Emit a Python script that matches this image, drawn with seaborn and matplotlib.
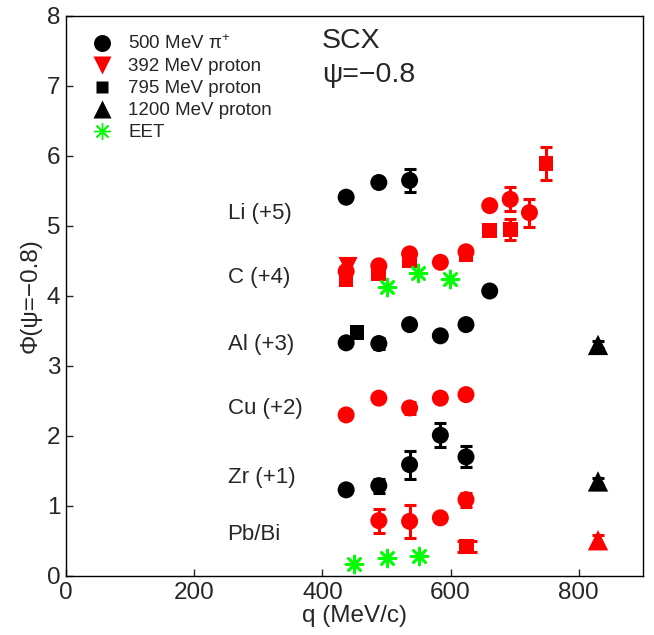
import matplotlib
matplotlib.use("Agg")
import matplotlib.pyplot as plt
from matplotlib.lines import Line2D
import numpy as np
import pandas as pd
import seaborn as sns

# ---- measured SCX points, grouped by nucleus and probe ----
# Li (+5), 500 MeV pi+
li_pi_q = [437, 488, 536, 661]
li_pi_phi = [5.41, 5.62, 5.65, 4.07]
li_pi_err = [0, 0, 0.16, 0]

# C (+4)
c_pi_q = [437, 488, 536, 584, 624, 661, 693, 723]
c_pi_phi = [4.35, 4.43, 4.60, 4.48, 4.63, 5.29, 5.38, 5.19]
c_pi_err = [0, 0, 0, 0, 0, 0, 0.17, 0.20]
c_p392_q = [440]
c_p392_phi = [4.42]
c_p795_q = [437, 488, 536, 624, 661, 693, 749]
c_p795_phi = [4.23, 4.32, 4.50, 4.59, 4.93, 4.95, 5.89]
c_p795_err = [0, 0, 0, 0, 0, 0.15, 0.23]
c_eet_q = [500, 549, 599]
c_eet_phi = [4.13, 4.33, 4.24]

# Al (+3)
al_pi_q = [437, 488, 536, 584, 624]
al_pi_phi = [3.33, 3.32, 3.59, 3.43, 3.59]
al_pi_err = [0, 0.08, 0, 0, 0]
al_p795_q = [454]
al_p795_phi = [3.48]
al_p1200_q = [830]
al_p1200_phi = [3.30]
al_p1200_err = [0.05]

# Cu (+2)
cu_pi_q = [437, 488, 536, 584, 624]
cu_pi_phi = [2.30, 2.54, 2.40, 2.54, 2.59]
cu_pi_err = [0, 0, 0.09, 0, 0]

# Zr (+1)
zr_pi_q = [437, 488, 536, 584, 624]
zr_pi_phi = [1.23, 1.29, 1.59, 2.01, 1.70]
zr_pi_err = [0, 0.10, 0.20, 0.17, 0.15]
zr_p1200_q = [830]
zr_p1200_phi = [1.35]
zr_p1200_err = [0.05]

# Pb/Bi
pb_pi_q = [488, 536, 584, 624]
pb_pi_phi = [0.79, 0.78, 0.83, 1.09]
pb_pi_err = [0.17, 0.24, 0, 0.10]
pb_p795_q = [625]
pb_p795_phi = [0.42]
pb_p795_err = [0.08]
pb_p1200_q = [830]
pb_p1200_phi = [0.51]
pb_p1200_err = [0.07]
pb_eet_q = [449, 500, 550]
pb_eet_phi = [0.17, 0.26, 0.29]

nuclei = ["Li (+5)", "C (+4)", "Al (+3)", "Cu (+2)", "Zr (+1)", "Pb/Bi"]
probes = ["500 MeV \u03c0$^{+}$", "392 MeV proton", "795 MeV proton",
          "1200 MeV proton", "EET"]


def block(nucleus, probe, q, phi, err=None):
    if err is None:
        err = [0] * len(q)
    return pd.DataFrame({"q": q, "phi": phi, "err": err,
                         "nucleus": nucleus, "probe": probe})


df = pd.concat([
    block("Li (+5)", "pi500", li_pi_q, li_pi_phi, li_pi_err),
    block("C (+4)", "pi500", c_pi_q, c_pi_phi, c_pi_err),
    block("C (+4)", "p392", c_p392_q, c_p392_phi),
    block("C (+4)", "p795", c_p795_q, c_p795_phi, c_p795_err),
    block("C (+4)", "eet", c_eet_q, c_eet_phi),
    block("Al (+3)", "pi500", al_pi_q, al_pi_phi, al_pi_err),
    block("Al (+3)", "p795", al_p795_q, al_p795_phi),
    block("Al (+3)", "p1200", al_p1200_q, al_p1200_phi, al_p1200_err),
    block("Cu (+2)", "pi500", cu_pi_q, cu_pi_phi, cu_pi_err),
    block("Zr (+1)", "pi500", zr_pi_q, zr_pi_phi, zr_pi_err),
    block("Zr (+1)", "p1200", zr_p1200_q, zr_p1200_phi, zr_p1200_err),
    block("Pb/Bi", "pi500", pb_pi_q, pb_pi_phi, pb_pi_err),
    block("Pb/Bi", "p795", pb_p795_q, pb_p795_phi, pb_p795_err),
    block("Pb/Bi", "p1200", pb_p1200_q, pb_p1200_phi, pb_p1200_err),
    block("Pb/Bi", "eet", pb_eet_q, pb_eet_phi),
], ignore_index=True)

# ---- styling ----
sns.set_theme(style="ticks", rc={
    "xtick.direction": "in", "ytick.direction": "in",
    "xtick.major.size": 5, "ytick.major.size": 5,
    "xtick.major.width": 1.0, "ytick.major.width": 1.0,
    "axes.linewidth": 1.0, "axes.edgecolor": "black",
})
plt.rcParams["font.family"] = ["Liberation Sans", "DejaVu Sans"]
plt.rcParams["mathtext.fontset"] = "custom"
plt.rcParams["mathtext.rm"] = "Liberation Sans"
plt.rcParams["mathtext.it"] = "Liberation Sans"

nucleus_color = {"Li (+5)": "black", "C (+4)": "#ff0000", "Al (+3)": "black",
                 "Cu (+2)": "#ff0000", "Zr (+1)": "black", "Pb/Bi": "#ff0000"}
green = "#00ff00"
marker_of = {"pi500": "o", "p392": "v", "p795": "s", "p1200": "^",
             "eet": (8, 2, 0)}
size_of = {"pi500": 150, "p392": 190, "p795": 112, "p1200": 215, "eet": 150}
# wider caps on the Pb/Bi 795 MeV point
capsize_of = {("Pb/Bi", "p795"): 7.0}

fig = plt.figure(figsize=(6.54, 6.35), dpi=100)
ax = fig.add_axes([0.101, 0.093, 0.882, 0.882])

for (nuc, probe), sub in df.groupby(["nucleus", "probe"], sort=False):
    col = green if probe == "eet" else nucleus_color[nuc]
    eb = sub[sub["err"] > 0]
    if len(eb):
        ax.errorbar(eb["q"], eb["phi"], yerr=eb["err"], fmt="none",
                    ecolor=col, elinewidth=2.2,
                    capsize=capsize_of.get((nuc, probe), 4.5), capthick=2.2,
                    zorder=2)
    if probe == "eet":
        sns.scatterplot(data=sub, x="q", y="phi", ax=ax, marker=marker_of[probe],
                        s=size_of[probe], color=col, linewidth=1.9,
                        legend=False, zorder=3)
    else:
        sns.scatterplot(data=sub, x="q", y="phi", ax=ax, marker=marker_of[probe],
                        s=size_of[probe], color=col, edgecolor="none",
                        linewidth=0, legend=False, zorder=3)

ax.set_xlim(0, 900)
ax.set_ylim(0, 8)
ax.set_xticks([0, 200, 400, 600, 800])
ax.set_yticks(range(0, 9))
ax.tick_params(labelsize=17.5, pad=4)
ax.set_xlabel("q (MeV/c)", fontsize=17.5, labelpad=1)
ax.set_ylabel("\u03a6(\u03c8=\u22120.8)", fontsize=17.5, labelpad=4)

# nucleus labels beside each row of points
label_phi = [5.17, 4.27, 3.30, 2.39, 1.40, 0.59]
for name, yv in zip(nuclei, label_phi):
    ax.text(252, yv, name, fontsize=16, ha="left", va="center")

ax.text(399, 7.64, "SCX", fontsize=20.5, ha="left", va="center")
ax.text(399, 7.15, "\u03c8=\u22120.8", fontsize=20.5, ha="left", va="center")

handles = [
    Line2D([], [], ls="none", marker="o", ms=12.2, color="black", mec="none"),
    Line2D([], [], ls="none", marker="v", ms=12.5, color="#ff0000", mec="none"),
    Line2D([], [], ls="none", marker="s", ms=8.5, color="black", mec="none"),
    Line2D([], [], ls="none", marker="^", ms=12.5, color="black", mec="none"),
    Line2D([], [], ls="none", marker=(8, 2, 0), ms=12, color=green, mew=1.0),
]
ax.legend(handles, probes, loc="upper left", bbox_to_anchor=(0.02, 0.99),
          frameon=False, fontsize=13.5, handlelength=1.2, handletextpad=0.8,
          labelspacing=0.26, borderpad=0.2)

fig.savefig("out.png", dpi=100)
